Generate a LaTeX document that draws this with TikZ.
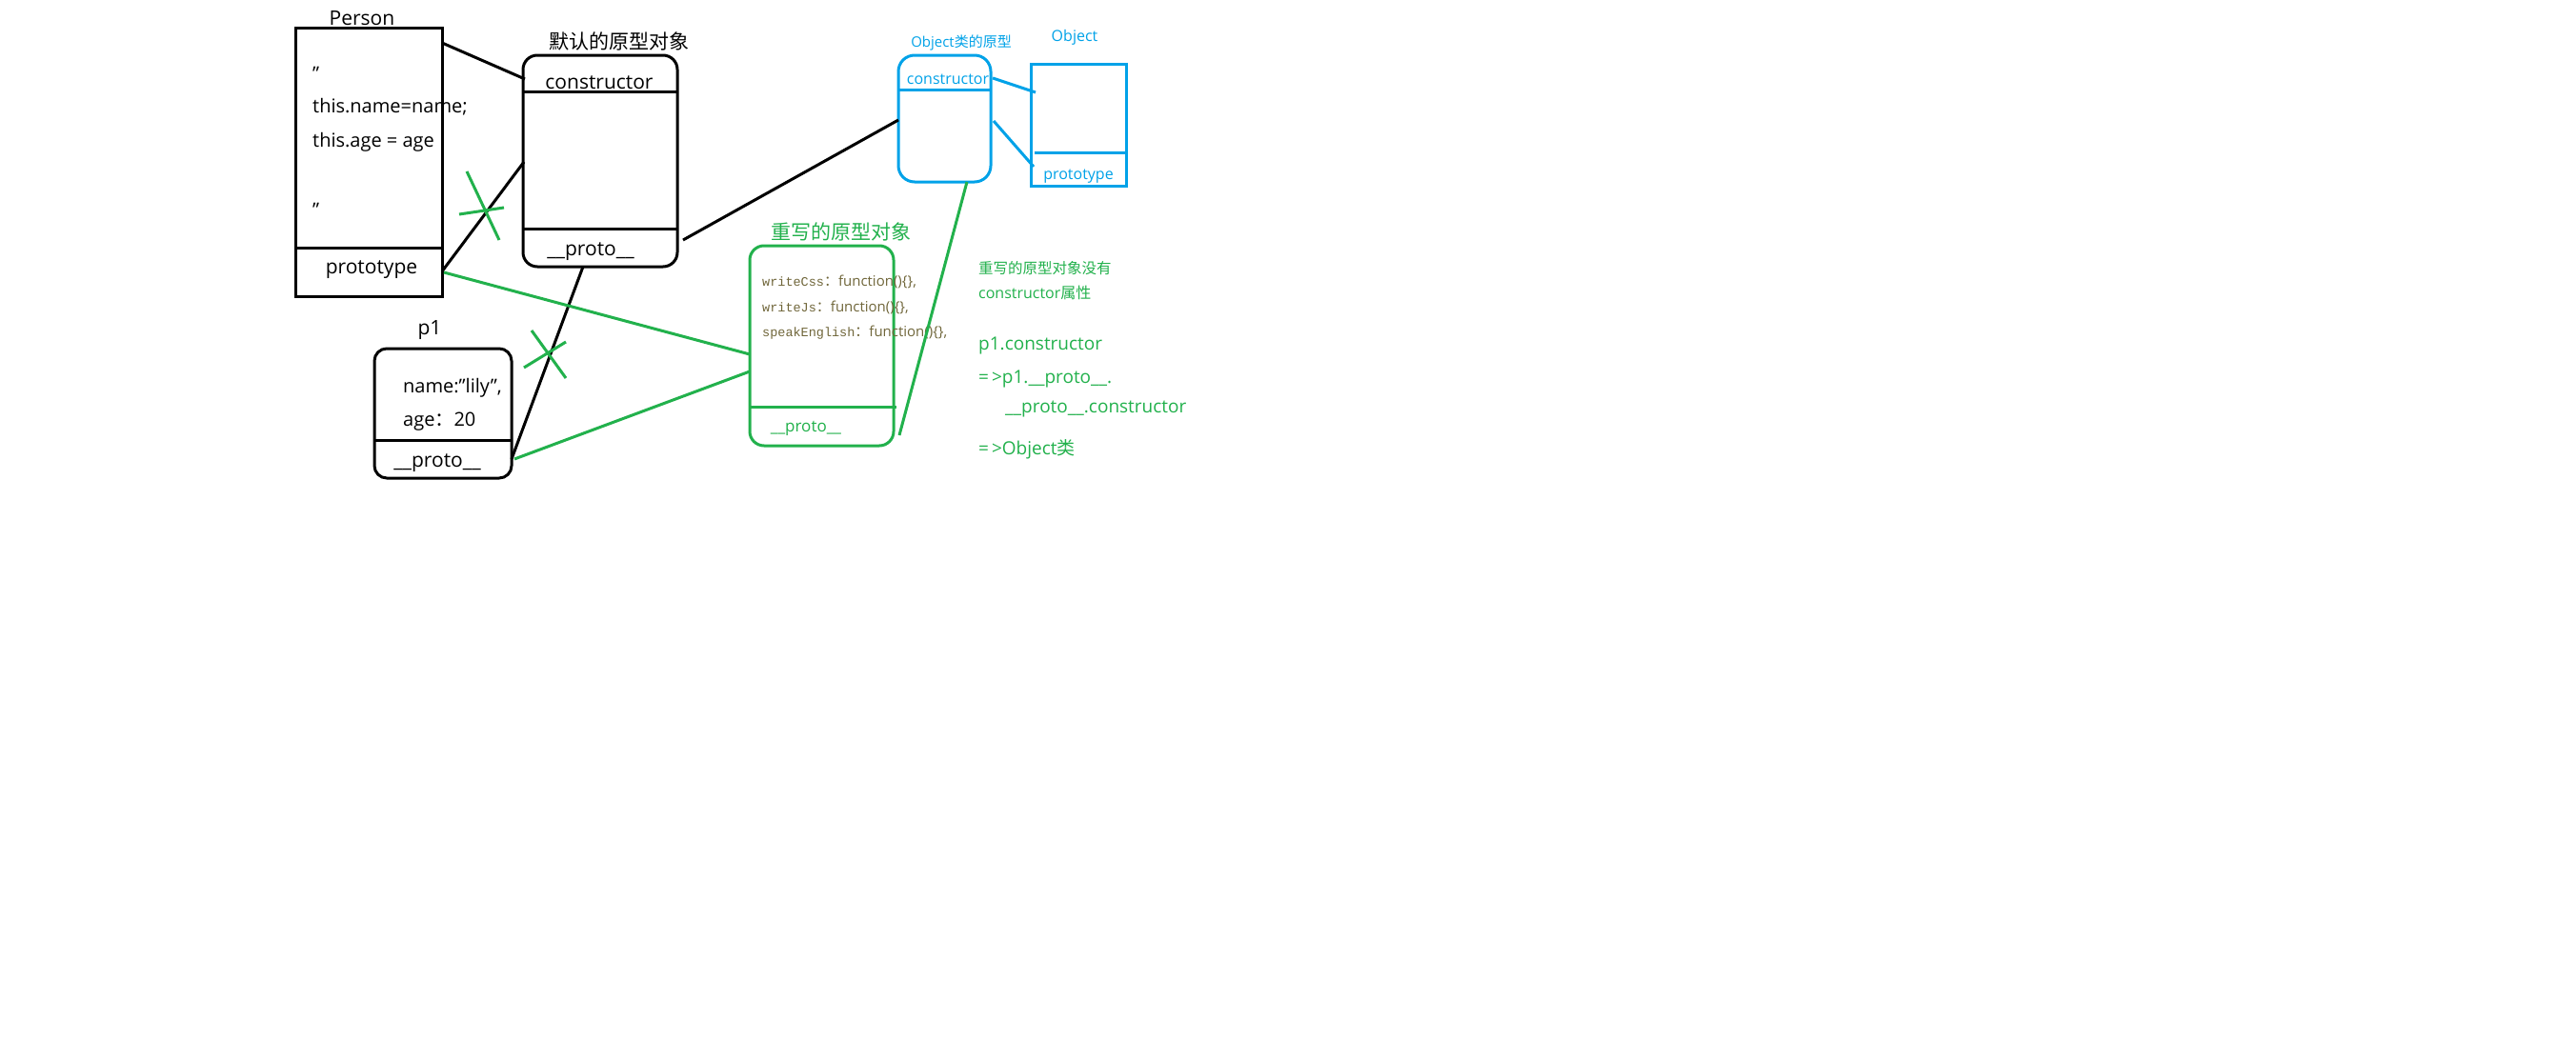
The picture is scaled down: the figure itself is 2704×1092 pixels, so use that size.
\documentclass[tikz,border=0pt]{standalone}
\usepackage{fontspec}
\setmainfont{Open Sans}
\newfontfamily\cjk{Noto Sans CJK SC}
\newfontfamily\codefont{Liberation Mono}
\usetikzlibrary{calc}
\definecolor{pgreen}{RGB}{34,177,76}
\definecolor{pblue}{RGB}{0,162,232}
\definecolor{pcode}{RGB}{112,102,58}
\tikzset{
  boxshape/.style={draw,line width=3pt,inner sep=0pt,outer sep=0pt,rectangle},
  link/.style={line width=3pt},
  txt/.style={inner sep=0pt,anchor=base west},
  ctxt/.style={inner sep=0pt,anchor=base},
}
\newcommand{\dq}{\symbol{34}}
\newcommand{\fn}{function()\{\},}
\begin{document}
\begin{tikzpicture}[x=1pt,y=-1pt]
\useasboundingbox[fill=white] (0,0) rectangle (2704,1092);

% ---------- Person constructor ----------
\node[boxshape,minimum width=154pt,minimum height=282pt] (person) at (387,170) {};
\draw[link] (person.west |- 0,260) -- (person.east |- 0,260);
\node[ctxt,font=\fontsize{21}{21}\selectfont] (personlbl) at (380,26) {Person};
\node[txt,font=\fontsize{20}{20}\selectfont] (q1) at (328,84) {\dq};
\node[txt,font=\fontsize{20}{20}\selectfont] (l1) at (328,118) {this.name=name;};
\node[txt,font=\fontsize{20}{20}\selectfont] (l2) at (328,154) {this.age = age};
\node[txt,font=\fontsize{20}{20}\selectfont] (q2) at (328,227) {\dq};
\node[ctxt,font=\fontsize{21}{21}\selectfont] (ptype) at (390,287) {prototype};

% ---------- default prototype object ----------
\node[boxshape,rounded corners=15pt,minimum width=162pt,minimum height=222pt] (dproto) at (630,169) {};
\draw[link] (dproto.west |- 0,96) -- (dproto.east |- 0,96);
\draw[link] (dproto.west |- 0,240) -- (dproto.east |- 0,240);
\node[inner sep=0pt,font=\cjk\fontsize{21}{21}\selectfont] (dtitle) at (650,43) {默认的原型对象};
\node[ctxt,font=\fontsize{21}{21}\selectfont] (dcons) at (629,93) {constructor};
\node[ctxt,font=\fontsize{21}{21}\selectfont] (dprotolbl) at (620,268) {\_\_proto\_\_};

% ---------- instance p1 ----------
\node[boxshape,rounded corners=13pt,minimum width=144pt,minimum height=136pt] (p1) at (465,434) {};
\draw[link] (p1.west |- 0,462) -- (p1.east |- 0,462);
\node[ctxt,font=\fontsize{21}{21}\selectfont] (p1lbl) at (451,351) {p1};
\node[txt,font=\fontsize{20}{20}\selectfont] (n1) at (423,412) {name:\dq lily\dq,};
\node[txt,font=\fontsize{20}{20}\selectfont] (n2) at (423,447) {age{\cjk ：}20};
\node[ctxt,font=\fontsize{21}{21}\selectfont] (p1proto) at (459,490) {\_\_proto\_\_};

% ---------- rewritten prototype object ----------
\node[boxshape,draw=pgreen,rounded corners=15pt,minimum width=151pt,minimum height=210pt] (green) at (862.5,363) {};
\draw[link,pgreen] (green.west |- 0,427) -- ([xshift=3pt]green.east |- 0,427);
\node[inner sep=0pt,text=pgreen,font=\cjk\fontsize{21}{21}\selectfont] (gtitle) at (883,243) {重写的原型对象};
\node[txt,text=pcode,font=\fontsize{15}{15}\selectfont] (m1) at (800,300) {{\codefont\fontsize{13.5}{13.5}\selectfont writeCss}{\cjk ：}\fn};
\node[txt,text=pcode,font=\fontsize{15}{15}\selectfont] (m2) at (800,327) {{\codefont\fontsize{13.5}{13.5}\selectfont writeJs}{\cjk ：}\fn};
\node[txt,text=pcode,font=\fontsize{15}{15}\selectfont] (m3) at (800,353) {{\codefont\fontsize{13.5}{13.5}\selectfont speakEnglish}{\cjk ：}\fn};
\node[ctxt,text=pgreen,font=\fontsize{17}{17}\selectfont] (gproto) at (846,453) {\_\_proto\_\_};

% ---------- Object.prototype ----------
\node[boxshape,draw=pblue,rounded corners=17pt,minimum width=97pt,minimum height=133pt] (oproto) at (991.5,124.5) {};
\draw[link,pblue] (oproto.west |- 0,94) -- (oproto.east |- 0,94);
\node[ctxt,text=pblue,font=\fontsize{15}{15}\selectfont] (otitle) at (1009,49) {Object{\cjk 类的原型}};
\node[ctxt,text=pblue,font=\fontsize{16}{16}\selectfont] (ocons) at (995,88) {constructor};

% ---------- Object constructor ----------
\node[boxshape,draw=pblue,minimum width=100pt,minimum height=128pt] (obj) at (1132,131) {};
\draw[link,pblue] ([xshift=4pt]obj.west |- 0,160) -- ([xshift=2pt]obj.east |- 0,160);
\node[ctxt,text=pblue,font=\fontsize{16}{16}\selectfont] (objlbl) at (1128,43) {Object};
\node[ctxt,text=pblue,font=\fontsize{16}{16}\selectfont] (objproto) at (1132,188) {prototype};

% ---------- notes ----------
\node[txt,text=pgreen,font=\cjk\fontsize{15.5}{15.5}\selectfont] (note1) at (1027,287) {重写的原型对象没有};
\node[txt,text=pgreen,font=\fontsize{16}{16}\selectfont] (note2) at (1027,313) {constructor{\cjk 属性}};
\node[txt,text=pgreen,font=\fontsize{19}{19}\selectfont] (note3) at (1027,367) {p1.constructor};
\node[txt,text=pgreen,font=\fontsize{19}{19}\selectfont] (note4) at (1027,402) {=\hspace{3pt}>p1.\_\_proto\_\_.};
\node[txt,text=pgreen,font=\fontsize{19}{19}\selectfont] (note5) at (1055,433) {\_\_proto\_\_.constructor};
\node[txt,text=pgreen,font=\fontsize{19}{19}\selectfont] (note6) at (1027,477) {=\hspace{3pt}>Object{\cjk 类}};

% ---------- connectors ----------
\draw[link] (person.east |- 0,45) -- ([xshift=2pt]dproto.west |- 0,83);
\draw[link] (person.east |- 0,285) -- ([xshift=1pt]dproto.west |- 0,170);
\draw[link] (p1.east |- 0,482) -- (dproto.south -| 612,0);
\draw[link] ([xshift=6pt]dproto.east |- 0,252) -- (oproto.west |- 0,126);
\draw[link,pgreen] ([xshift=2pt]person.east |- 0,286) -- (green.west |- 0,372);
\draw[link,pgreen] ([xshift=3pt]p1.east |- 0,482) -- (green.west |- 0,390);
\draw[link,pgreen] ([xshift=6pt]green.east |- 0,457) -- (oproto.south -| 1015,0);
\draw[link,pblue] ([xshift=2pt]oproto.east |- 0,82) -- ([xshift=5pt]obj.west |- 0,97);
\draw[link,pblue] ([xshift=3pt]oproto.east |- 0,127) -- ([xshift=3pt]obj.west |- 0,175);

% ---------- crossed-out links ----------
\draw[link,pgreen] (490,180) -- (524,252);
\draw[link,pgreen] (482,225) -- (529,218);
\draw[link,pgreen] (558,347) -- (594,397);
\draw[link,pgreen] (550,386) -- (594,359);
\end{tikzpicture}
\end{document}
